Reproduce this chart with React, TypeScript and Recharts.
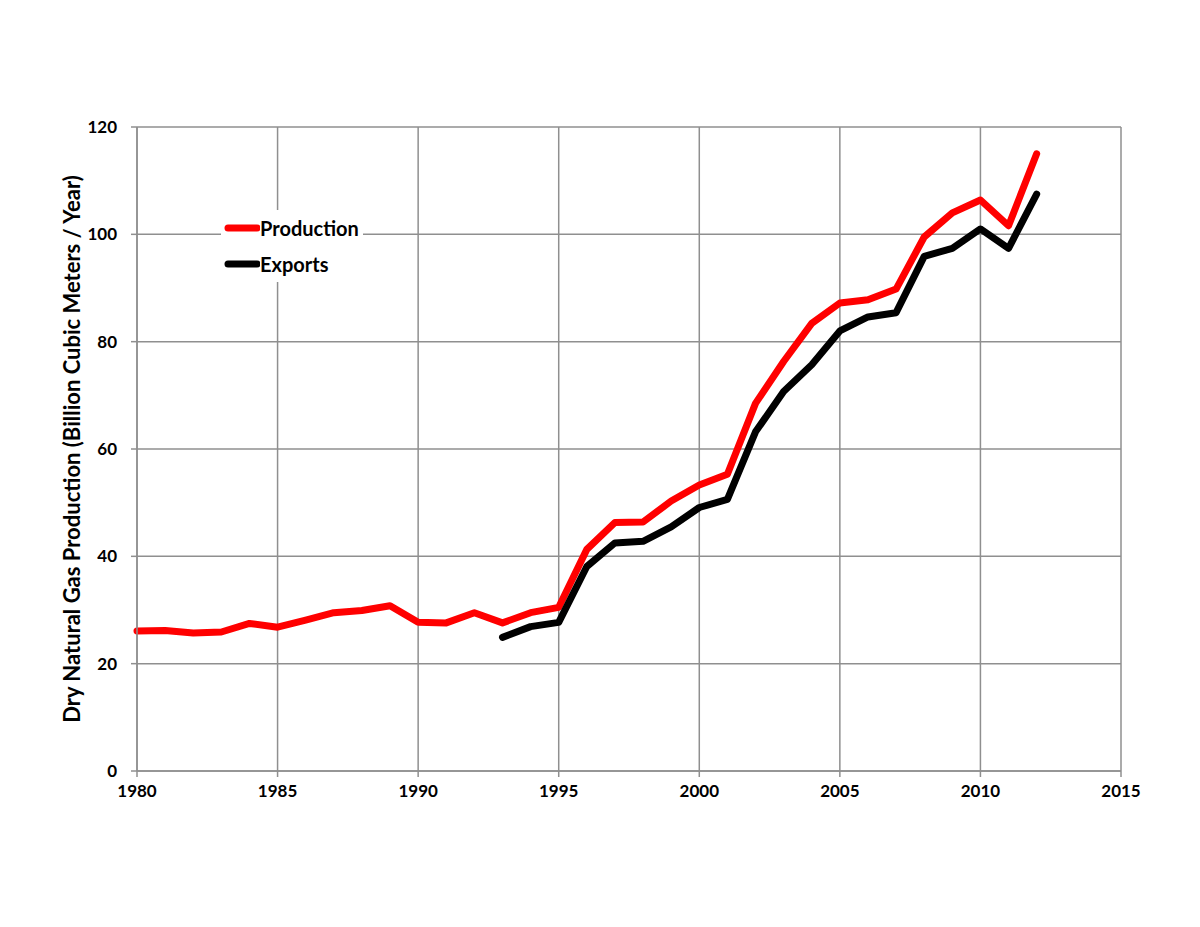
import React from 'react';
import { LineChart, Line, XAxis, YAxis, CartesianGrid, Label } from 'recharts';

const years = [1980,1981,1982,1983,1984,1985,1986,1987,1988,1989,1990,1991,1992,1993,1994,1995,1996,1997,1998,1999,2000,2001,2002,2003,2004,2005,2006,2007,2008,2009,2010,2011,2012];
const production = [26.1,26.2,25.7,25.9,27.5,26.8,28.1,29.5,29.9,30.8,27.7,27.6,29.5,27.6,29.5,30.5,41.3,46.3,46.4,50.3,53.3,55.3,68.5,76.3,83.4,87.2,87.8,89.8,99.5,104.0,106.4,101.6,115.0];
const exportsVals: (number | null)[] = [null,null,null,null,null,null,null,null,null,null,null,null,null,24.9,26.9,27.7,38.1,42.5,42.8,45.5,49.1,50.6,63.2,70.7,75.7,82.0,84.6,85.4,95.9,97.4,101.0,97.4,107.5];
const xTicks = [1980,1985,1990,1995,2000,2005,2010,2015];
const yTicks = [0,20,40,60,80,100,120];
const seriesNames = ['Production', 'Exports'];
const seriesColors = ['#ff0000', '#000000'];

const data = years.map((y, i) => ({ year: y, production: production[i], exports: exportsVals[i] }));

const FONT = 'Lato, "Open Sans", sans-serif';
const GRID = '#8f8f8f';

const LegendBox = () => (
  <div style={{ position: 'absolute', left: 221, top: 210, background: '#fff', padding: '0 4px 0 2px', fontFamily: FONT, fontWeight: 700, fontSize: 20, color: '#000' }}>
    {seriesNames.map((n, i) => (
      <div key={n} style={{ display: 'flex', alignItems: 'center', height: 36 }}>
        <svg width={37} height={10}>
          <line x1={5} y1={5} x2={34} y2={5} stroke={seriesColors[i]} strokeWidth={7} strokeLinecap="round" />
        </svg>
        <span>{n}</span>
      </div>
    ))}
  </div>
);

export default function App() {
  return (
    <div style={{ position: 'absolute', left: 0, top: 0, width: 1200, height: 927, background: '#fff' }}>
      <LineChart width={1200} height={927} data={data} margin={{ top: 127, right: 79, bottom: 126, left: 0 }}>
        <CartesianGrid stroke={GRID} strokeWidth={1.5} />
        <XAxis
          dataKey="year"
          type="number"
          domain={[1980, 2015]}
          ticks={xTicks}
          interval={0}
          height={30}
          stroke={GRID}
          strokeWidth={1.5}
          tickSize={6}
          tickMargin={8}
          tick={{ fill: '#000', fontFamily: FONT, fontWeight: 700, fontSize: 17 }}
        />
        <YAxis
          type="number"
          domain={[0, 120]}
          ticks={yTicks}
          interval={0}
          width={137}
          stroke={GRID}
          strokeWidth={1.5}
          tickSize={6}
          tickMargin={14}
          tick={{ fill: '#000', fontFamily: FONT, fontWeight: 700, fontSize: 17 }}
        >
          <Label
            value="Dry Natural Gas Production (Billion Cubic Meters / Year)"
            angle={-90}
            position="center"
            dx={4}
            style={{ fill: '#000', fontFamily: FONT, fontWeight: 700, fontSize: 22, textAnchor: 'middle' }}
          />
        </YAxis>
        <Line dataKey="production" name={seriesNames[0]} stroke={seriesColors[0]} strokeWidth={7} dot={false} isAnimationActive={false} strokeLinecap="round" strokeLinejoin="round" />
        <Line dataKey="exports" name={seriesNames[1]} stroke={seriesColors[1]} strokeWidth={7} dot={false} isAnimationActive={false} strokeLinecap="round" strokeLinejoin="round" connectNulls={false} />
      </LineChart>
      <LegendBox />
    </div>
  );
}
